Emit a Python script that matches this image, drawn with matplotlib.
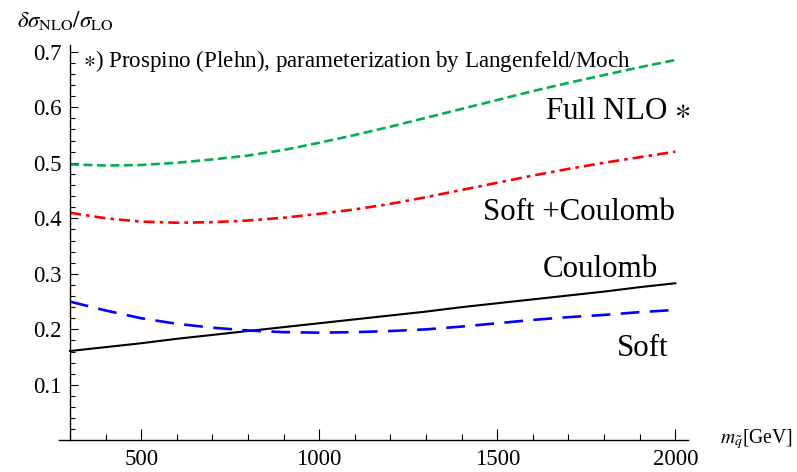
import matplotlib
matplotlib.use("Agg")
import matplotlib.pyplot as plt
from matplotlib.ticker import FixedLocator

plt.rcParams["font.family"] = ["Liberation Serif", "DejaVu Serif"]
plt.rcParams["mathtext.fontset"] = "stix"
plt.rcParams["lines.scale_dashes"] = False

# squark mass grid [GeV]
mass = [300, 400, 500, 600, 700, 800, 900, 1000, 1100, 1200,
        1300, 1400, 1500, 1600, 1700, 1800, 1900, 2000]

# relative NLO corrections delta sigma_NLO / sigma_LO
full_nlo = [0.497, 0.495, 0.496, 0.500, 0.506, 0.513, 0.523, 0.536, 0.550,
            0.565, 0.581, 0.597, 0.613, 0.629, 0.644, 0.658, 0.672, 0.685]
soft_coulomb = [0.410, 0.400, 0.394, 0.392, 0.393, 0.396, 0.401, 0.408, 0.416,
                0.426, 0.438, 0.451, 0.464, 0.477, 0.489, 0.500, 0.510, 0.520]
coulomb = [0.161, 0.168, 0.175, 0.183, 0.190, 0.197, 0.204, 0.211, 0.218,
           0.225, 0.232, 0.240, 0.247, 0.254, 0.261, 0.268, 0.276, 0.283]
soft = [0.250, 0.234, 0.220, 0.210, 0.203, 0.198, 0.195, 0.194, 0.195,
        0.197, 0.200, 0.205, 0.211, 0.217, 0.222, 0.226, 0.231, 0.235]

x_major = [500, 1000, 1500, 2000]
y_major = [0.1, 0.2, 0.3, 0.4, 0.5, 0.6, 0.7]

fig = plt.figure(figsize=(7.97, 4.72), dpi=100)
ax = fig.add_axes([0.0744, 0.0669, 0.789, 0.8377])

ax.plot(mass, full_nlo, color="#00b04f", lw=1.9, dashes=(6.5, 3.2))
ax.plot(mass, soft_coulomb, color="#ff0000", lw=1.9, dashes=(8.0, 3.6, 2.6, 3.6))
ax.plot(mass, coulomb, color="black", lw=1.5)
ax.plot(mass, soft, color="#0000ff", lw=1.9, dashes=(13.5, 7.5))

ax.set_xlim(270, 2036)
ax.set_ylim(0, 0.712)

for s in ("top", "right"):
    ax.spines[s].set_visible(False)
ax.spines["left"].set_position(("data", 300))
ax.spines["bottom"].set_position(("data", 0))
for s in ("left", "bottom"):
    ax.spines[s].set_linewidth(1.0)

ax.xaxis.set_major_locator(FixedLocator(x_major))
ax.xaxis.set_minor_locator(FixedLocator([m for m in range(300, 2001, 100) if m % 500]))
ax.yaxis.set_major_locator(FixedLocator(y_major))
ax.yaxis.set_minor_locator(FixedLocator([round(0.02 * i, 2) for i in range(1, 36) if i % 5]))
ax.set_yticklabels([f"{v:.1f}" for v in y_major])
ax.set_xticklabels([str(v) for v in x_major])

# ticks drawn into the plot region (upward / rightward)
ax.tick_params(axis="x", which="major", direction="in", length=8, width=0.8,
               labelsize=16.5, pad=6)
ax.tick_params(axis="x", which="minor", direction="in", length=4.5, width=0.8)
ax.tick_params(axis="y", which="major", direction="in", length=5.5, width=0.8,
               labelsize=16.5, pad=6)
ax.tick_params(axis="y", which="minor", direction="in", length=3.5, width=0.8)

# axis titles
fig.text(17 / 797, 1 - 27 / 472, r"$\delta\sigma_{\rm NLO}/\sigma_{\rm LO}$",
         fontsize=16.5, ha="left", va="baseline")
fig.text(720 / 797, 1 - 443 / 472, r"$m_{\tilde{q}}$[GeV]",
         fontsize=14.2, ha="left", va="baseline")

# curve labels
ax.text(1634, 0.578, r"Full NLO $\ast$", fontsize=22.3, ha="left", va="baseline")
ax.text(1461, 0.397, "Soft +Coulomb", fontsize=22.3, ha="left", va="baseline")
ax.text(1627, 0.294, "Coulomb", fontsize=22.3, ha="left", va="baseline")
ax.text(1836, 0.1525, "Soft", fontsize=22.3, ha="left", va="baseline")

ax.text(336, 0.673, r"$\ast$) Prospino (Plehn), parameterization by Langenfeld/Moch",
        fontsize=16.6, ha="left", va="baseline")

fig.savefig("out.png", dpi=100)
